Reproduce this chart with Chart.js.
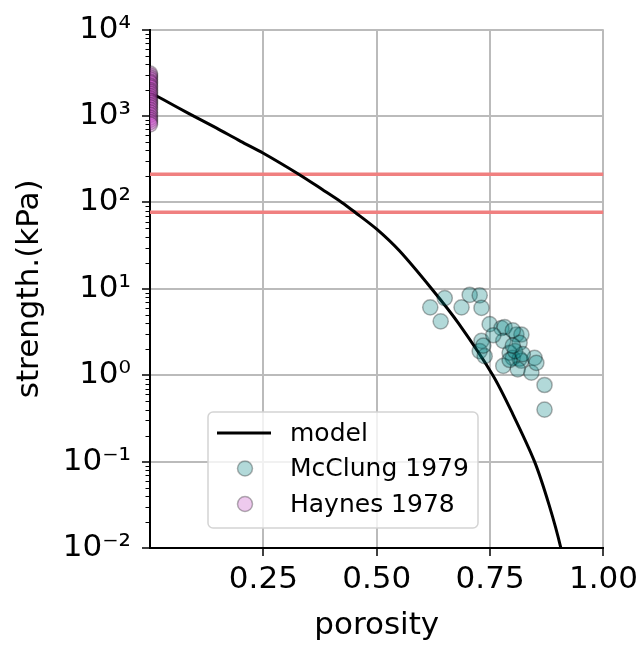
<!DOCTYPE html>
<html>
<head>
<meta charset="utf-8">
<script src="https://cdn.jsdelivr.net/npm/chart.js@4.4.1/dist/chart.umd.min.js"></script>
<style>
body{margin:0;background:#fff;}
</style>
</head>
<body>
<canvas id="myChart" width="643" height="645"></canvas>
<script>
//model curve
const modelPorosity = [0, 0.029, 0.087, 0.146, 0.2, 0.25, 0.328, 0.38, 0.423, 0.452, 0.5, 0.55, 0.621, 0.68, 0.756, 0.8, 0.848, 0.88, 0.906, 0.92];
const modelStrength = [1875, 1550, 1060, 728, 509, 371, 212, 141, 100, 77, 49, 27.5, 10, 4.0, 1.0, 0.355, 0.1, 0.0316, 0.01, 0.004];

//McClung 1979
const mcclungPorosity = [0.618, 0.650, 0.641, 0.687, 0.705, 0.727, 0.731, 0.749, 0.775, 0.782,
  0.731, 0.727, 0.738, 0.779, 0.808, 0.819, 0.815, 0.793, 0.800, 0.815,
  0.819, 0.779, 0.811, 0.841, 0.848, 0.852, 0.870, 0.870, 0.793, 0.757,
  0.735, 0.800, 0.805, 0.822, 0.800];
const mcclungStrength = [6.1, 7.8, 4.2, 6.1, 8.5, 8.4, 6.0, 3.9, 3.5, 3.6,
  2.5, 1.9, 1.66, 2.5, 2.96, 2.96, 2.37, 1.82, 1.59, 1.55,
  1.47, 1.28, 1.17, 1.07, 1.59, 1.39, 0.77, 0.40, 1.5, 2.9,
  2.2, 3.3, 1.9, 1.75, 2.2];

//Haynes 1978
const haynesPorosity = [0, 0, 0, 0, 0, 0, 0, 0, 0, 0, 0, 0, 0, 0, 0, 0, 0, 0, 0, 0, 0, 0, 0, 0];
const haynesStrength = [3100, 2950, 2800, 2650, 2500, 2400, 2250, 2150, 2000, 1900, 1800, 1700,
  1600, 1500, 1420, 1340, 1260, 1180, 1100, 1030, 960, 900, 850, 800];

//horizontal reference lines
const refLevels = [212, 77];

const xTicks = [0.25, 0.5, 0.75, 1.0];
const yTicks = [0.01, 0.1, 1, 10, 100, 1000, 10000];
const yTickLabels = ['10\u207B\u00B2', '10\u207B\u00B9', '10\u2070', '10\u00B9', '10\u00B2', '10\u00B3', '10\u2074'];

const font = "'DejaVu Sans'";
Chart.defaults.font.family = font;
Chart.defaults.color = '#000';

function pts(xs, ys) {
  return xs.map((x, i) => ({x: x, y: ys[i]}));
}

//minor log ticks on the left spine
const minorTicks = {
  id: 'minorTicks',
  afterDraw(chart) {
    const c = chart.ctx;
    const y = chart.scales.y;
    const left = chart.chartArea.left;
    c.save();
    c.strokeStyle = '#000';
    c.lineWidth = 1;
    for (let n = -2; n < 4; n++) {
      for (let k = 2; k < 10; k++) {
        const py = Math.round(y.getPixelForValue(k * Math.pow(10, n))) + 0.5;
        c.beginPath();
        c.moveTo(left - 4.5, py);
        c.lineTo(left, py);
        c.stroke();
      }
    }
    c.restore();
  }
};

//legend box inside the plot
const boxLegend = {
  id: 'boxLegend',
  afterDraw(chart) {
    const c = chart.ctx;
    const x0 = 208, y0 = 412, w = 270, h = 116, r = 5;
    c.save();
    c.beginPath();
    c.moveTo(x0 + r, y0);
    c.arcTo(x0 + w, y0, x0 + w, y0 + h, r);
    c.arcTo(x0 + w, y0 + h, x0, y0 + h, r);
    c.arcTo(x0, y0 + h, x0, y0, r);
    c.arcTo(x0, y0, x0 + w, y0, r);
    c.closePath();
    c.fillStyle = 'rgba(255,255,255,0.8)';
    c.fill();
    c.strokeStyle = '#d4d4d4';
    c.lineWidth = 1.5;
    c.stroke();

    c.font = "25px " + font;
    c.textBaseline = 'middle';
    const items = chart.data.datasets.filter(d => d.label);
    items.forEach((d, i) => {
      const ry = 433 + i * 35.5;
      if (d.type === 'line') {
        c.strokeStyle = d.borderColor;
        c.lineWidth = d.borderWidth;
        c.beginPath();
        c.moveTo(217, ry);
        c.lineTo(271, ry);
        c.stroke();
      } else {
        c.beginPath();
        c.arc(245, ry, 7.5, 0, Math.PI * 2);
        c.fillStyle = d.backgroundColor;
        c.fill();
        c.strokeStyle = d.borderColor;
        c.lineWidth = d.borderWidth;
        c.stroke();
      }
      c.fillStyle = '#000';
      c.fillText(d.label, 290, ry + 1);
    });
    c.restore();
  }
};

const datasets = [
  {
    type: 'line',
    label: 'model',
    data: pts(modelPorosity, modelStrength),
    borderColor: '#000',
    borderWidth: 3,
    pointRadius: 0,
    tension: 0.3,
    clip: 0,
    order: 1
  },
  {
    label: 'McClung 1979',
    data: pts(mcclungPorosity, mcclungStrength),
    backgroundColor: 'rgba(0,128,128,0.3)',
    borderColor: 'rgba(0,0,0,0.3)',
    borderWidth: 1.5,
    pointRadius: 7.6,
    clip: 0,
    order: 0
  },
  {
    label: 'Haynes 1978',
    data: pts(haynesPorosity, haynesStrength),
    backgroundColor: 'rgba(200,80,200,0.3)',
    borderColor: 'rgba(0,0,0,0.3)',
    borderWidth: 1.5,
    pointRadius: 7.6,
    clip: 0,
    order: 0
  }
];

refLevels.forEach(v => {
  datasets.push({
    type: 'line',
    label: '',
    data: pts([0, 1], [v, v]),
    borderColor: '#f08080',
    borderWidth: 3.5,
    pointRadius: 0,
    clip: 0,
    order: 2
  });
});

const ctx = document.getElementById('myChart');

const chart = new Chart(ctx, {
  type: 'scatter',
  data: {datasets: datasets},
  plugins: [minorTicks, boxLegend],
  options: {
    responsive: false,
    animation: false,
    events: [],
    layout: {padding: {top: 26, right: 37, left: 0, bottom: 0}},
    plugins: {
      legend: {display: false},
      tooltip: {enabled: false}
    },
    scales: {
      x: {
        type: 'linear',
        min: 0,
        max: 1,
        afterBuildTicks: s => { s.ticks = xTicks.map(v => ({value: v})); },
        afterFit: s => { s.height = 97; },
        ticks: {
          autoSkip: false,
          maxRotation: 0,
          padding: 5,
          font: {size: 31},
          callback: v => v.toFixed(2)
        },
        grid: {color: '#bbbbbb', lineWidth: 2, tickLength: 8, tickColor: '#000', tickWidth: 1.5},
        border: {display: true, color: '#000', width: 2},
        title: {display: true, text: 'porosity', font: {size: 31}, padding: {top: 0, bottom: 0}}
      },
      y: {
        type: 'logarithmic',
        min: 0.01,
        max: 10000,
        afterBuildTicks: s => { s.ticks = yTicks.map(v => ({value: v})); },
        afterFit: s => { s.width = 150; },
        ticks: {
          autoSkip: false,
          padding: 11,
          font: {size: 31},
          callback: v => yTickLabels[yTicks.indexOf(v)]
        },
        grid: {color: '#bbbbbb', lineWidth: 2, tickLength: 8, tickColor: '#000', tickWidth: 1.5},
        border: {display: true, color: '#000', width: 2},
        title: {display: true, text: 'strength.(kPa)', font: {size: 31}, padding: {top: 11, bottom: 0}}
      }
    }
  }
});
</script>
</body>
</html>
